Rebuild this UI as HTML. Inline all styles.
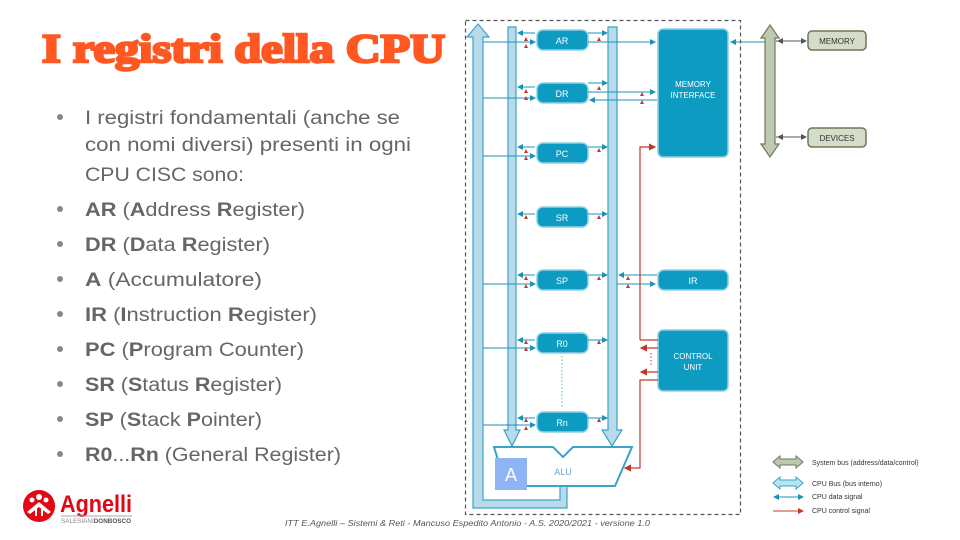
<!DOCTYPE html>
<html><head><meta charset="utf-8"><style>
html,body{margin:0;padding:0;background:#fff;width:960px;height:540px;overflow:hidden}
svg{display:block}
</style></head><body>
<svg width="960" height="540" viewBox="0 0 960 540" xmlns="http://www.w3.org/2000/svg" font-family="Liberation Sans, sans-serif">
<defs>
<marker id="ab" markerWidth="6" markerHeight="6" refX="5" refY="3" orient="auto"><path d="M0,0 L6,3 L0,6z" fill="#1e90b8"/></marker>
<marker id="ar" markerWidth="6" markerHeight="6" refX="5" refY="3" orient="auto"><path d="M0,0 L6,3 L0,6z" fill="#c0392b"/></marker>
<marker id="ag" markerWidth="6" markerHeight="6" refX="5" refY="3" orient="auto"><path d="M0,0 L6,3 L0,6z" fill="#555"/></marker>
</defs>
<!-- title -->
<text x="42" y="62" font-family="Liberation Serif, serif" font-weight="bold" font-size="40" fill="#ff5722" textLength="403" lengthAdjust="spacingAndGlyphs" stroke="#ff5722" stroke-width="2.5">I registri della CPU</text>
<!-- bullets -->
<g font-size="19" fill="#666">
<g fill="#888"><circle cx="60" cy="117" r="3"/><circle cx="60" cy="209" r="3"/><circle cx="60" cy="244" r="3"/><circle cx="60" cy="279" r="3"/><circle cx="60" cy="314" r="3"/><circle cx="60" cy="349" r="3"/><circle cx="60" cy="384" r="3"/><circle cx="60" cy="419" r="3"/><circle cx="60" cy="454" r="3"/></g>
<text x="85" y="124" textLength="315" lengthAdjust="spacingAndGlyphs">I registri fondamentali (anche se</text>
<text x="85" y="151" textLength="326" lengthAdjust="spacingAndGlyphs">con nomi diversi) presenti in ogni</text>
<text x="85" y="181" textLength="159" lengthAdjust="spacingAndGlyphs">CPU CISC sono:</text>
<text x="85" y="216" textLength="220" lengthAdjust="spacingAndGlyphs"><tspan font-weight="bold">AR</tspan> (<tspan font-weight="bold">A</tspan>ddress <tspan font-weight="bold">R</tspan>egister)</text>
<text x="85" y="251" textLength="185" lengthAdjust="spacingAndGlyphs"><tspan font-weight="bold">DR</tspan> (<tspan font-weight="bold">D</tspan>ata <tspan font-weight="bold">R</tspan>egister)</text>
<text x="85" y="286" textLength="177" lengthAdjust="spacingAndGlyphs"><tspan font-weight="bold">A</tspan>  (Accumulatore)</text>
<text x="85" y="321" textLength="232" lengthAdjust="spacingAndGlyphs"><tspan font-weight="bold">IR</tspan> (<tspan font-weight="bold">I</tspan>nstruction <tspan font-weight="bold">R</tspan>egister)</text>
<text x="85" y="356" textLength="219" lengthAdjust="spacingAndGlyphs"><tspan font-weight="bold">PC</tspan> (<tspan font-weight="bold">P</tspan>rogram Counter)</text>
<text x="85" y="391" textLength="197" lengthAdjust="spacingAndGlyphs"><tspan font-weight="bold">SR</tspan> (<tspan font-weight="bold">S</tspan>tatus <tspan font-weight="bold">R</tspan>egister)</text>
<text x="85" y="426" textLength="177" lengthAdjust="spacingAndGlyphs"><tspan font-weight="bold">SP</tspan> (<tspan font-weight="bold">S</tspan>tack <tspan font-weight="bold">P</tspan>ointer)</text>
<text x="85" y="461" textLength="256" lengthAdjust="spacingAndGlyphs"><tspan font-weight="bold">R0</tspan>...<tspan font-weight="bold">Rn</tspan> (General Register)</text>
</g>
<!-- logo -->
<circle cx="39" cy="506" r="16" fill="#e30613"/>
<g fill="#fff"><circle cx="39" cy="497" r="3"/><circle cx="32" cy="500" r="2.5"/><circle cx="46" cy="500" r="2.5"/><path d="M27,512 L39,502 L51,512 L48,514 L39,507 L30,514z"/><rect x="35" y="508" width="2" height="8"/><rect x="41" y="508" width="2" height="8"/></g>
<text x="60" y="512" font-size="24" font-weight="bold" fill="#e30613" textLength="72" lengthAdjust="spacingAndGlyphs">Agnelli</text>
<line x1="61" y1="516" x2="132" y2="516" stroke="#aaa" stroke-width="1"/>
<text x="61" y="523" font-size="6.5" fill="#888" textLength="70" lengthAdjust="spacingAndGlyphs">SALESIANI<tspan font-weight="bold" fill="#555">DONBOSCO</tspan></text>
<text x="285" y="526" font-size="8" font-style="italic" fill="#555" textLength="365" lengthAdjust="spacingAndGlyphs">ITT E.Agnelli – Sistemi &amp; Reti - Mancuso Espedito Antonio - A.S. 2020/2021 - versione 1.0</text>

<!-- diagram box -->
<rect x="465.5" y="20.5" width="275" height="494" fill="none" stroke="#555" stroke-dasharray="4,3" stroke-width="1.2"/>
<path d="M473,505 L473,37 L467,37 L478,24 L489,37 L483,37 L483,500 L560,500 L560,485 L567,485 L567,508 L473,508z" fill="#b8dbe9" stroke="#3aa3c9" stroke-width="1.2"/>
<path d="M508,27 L516,27 L516,430 L520,430 L512,446 L504,430 L508,430z" fill="#b8dbe9" stroke="#3aa3c9" stroke-width="1.2"/>
<path d="M608,27 L617,27 L617,430 L622,430 L612,446 L602,430 L608,430z" fill="#b8dbe9" stroke="#3aa3c9" stroke-width="1.2"/>
<path d="M494,447 L553,447 L563,457 L573,447 L632,447 L615,486 L506,486z" fill="#fff" stroke="#3aa3c9" stroke-width="2"/>
<text x="563" y="475" font-size="9" fill="#5aa8c8" text-anchor="middle">ALU</text>
<rect x="495" y="458" width="32" height="32" fill="#8fb4f5"/>
<text x="511" y="481" font-size="18" fill="#fff" text-anchor="middle">A</text>

<g font-size="9" fill="#fff" text-anchor="middle">
<rect x="537" y="30" width="51" height="20" rx="6" fill="#0e9bc2" stroke="#8fd0e6" stroke-width="1.5"/><text x="562" y="44">AR</text>
<rect x="537" y="83" width="51" height="20" rx="6" fill="#0e9bc2" stroke="#8fd0e6" stroke-width="1.5"/><text x="562" y="97">DR</text>
<rect x="537" y="143" width="51" height="20" rx="6" fill="#0e9bc2" stroke="#8fd0e6" stroke-width="1.5"/><text x="562" y="157">PC</text>
<rect x="537" y="207" width="51" height="20" rx="6" fill="#0e9bc2" stroke="#8fd0e6" stroke-width="1.5"/><text x="562" y="221">SR</text>
<rect x="537" y="270" width="51" height="20" rx="6" fill="#0e9bc2" stroke="#8fd0e6" stroke-width="1.5"/><text x="562" y="284">SP</text>
<rect x="537" y="333" width="51" height="20" rx="6" fill="#0e9bc2" stroke="#8fd0e6" stroke-width="1.5"/><text x="562" y="347">R0</text>
<rect x="537" y="412" width="51" height="20" rx="6" fill="#0e9bc2" stroke="#8fd0e6" stroke-width="1.5"/><text x="562" y="426">Rn</text>
<rect x="658" y="29" width="70" height="128" rx="5" fill="#0e9bc2" stroke="#8fd0e6" stroke-width="1.5"/>
<text x="693" y="87" font-size="8">MEMORY</text><text x="693" y="98" font-size="8">INTERFACE</text>
<rect x="658" y="270" width="70" height="20" rx="6" fill="#0e9bc2" stroke="#8fd0e6" stroke-width="1.5"/><text x="693" y="284">IR</text>
<rect x="658" y="330" width="70" height="61" rx="5" fill="#0e9bc2" stroke="#8fd0e6" stroke-width="1.5"/>
<text x="693" y="359" font-size="8">CONTROL</text><text x="693" y="370" font-size="8">UNIT</text>
</g>
<line x1="562" y1="356" x2="562" y2="408" stroke="#6ab4d0" stroke-dasharray="1.5,2"/>

<g stroke="#1e90b8" stroke-width="1" fill="none">
<path d="M535,33 L518,33" marker-end="url(#ab)"/><path d="M588,33 L607,33" marker-end="url(#ab)"/><path d="M483,42 L535,42" marker-end="url(#ab)"/><path d="M588,42 L655,42" marker-end="url(#ab)"/>
<path d="M535,87 L518,87" marker-end="url(#ab)"/><path d="M588,83 L607,83" marker-end="url(#ab)"/><path d="M483,98 L535,98" marker-end="url(#ab)"/><path d="M588,92 L655,92" marker-end="url(#ab)"/><path d="M657,100 L590,100" marker-end="url(#ab)"/>
<path d="M535,147 L518,147" marker-end="url(#ab)"/><path d="M588,147 L607,147" marker-end="url(#ab)"/><path d="M483,156 L535,156" marker-end="url(#ab)"/>
<path d="M535,214 L518,214" marker-end="url(#ab)"/><path d="M588,214 L607,214" marker-end="url(#ab)"/>
<path d="M535,275 L518,275" marker-end="url(#ab)"/><path d="M588,275 L607,275" marker-end="url(#ab)"/><path d="M483,284 L535,284" marker-end="url(#ab)"/>
<path d="M657,275 L619,275" marker-end="url(#ab)"/><path d="M617,284 L655,284" marker-end="url(#ab)"/>
<path d="M535,340 L518,340" marker-end="url(#ab)"/><path d="M588,340 L607,340" marker-end="url(#ab)"/><path d="M483,348 L535,348" marker-end="url(#ab)"/>
<path d="M535,418 L518,418" marker-end="url(#ab)"/><path d="M588,418 L607,418" marker-end="url(#ab)"/><path d="M483,425 L535,425" marker-end="url(#ab)"/>
<path d="M765,42 L731,42" marker-end="url(#ab)"/>
</g>
<g stroke="#c0392b" stroke-width="1.2" fill="none">
<path d="M640,340 L640,147 L655,147" marker-end="url(#ar)"/>
<path d="M658,340 L640,340"/>
<path d="M658,348 L641,348" marker-end="url(#ar)"/>
<path d="M658,372 L641,372" marker-end="url(#ar)"/>
<path d="M658,380 L640,380 L640,468 L625,468" marker-end="url(#ar)"/>
</g>
<line x1="651" y1="353" x2="651" y2="367" stroke="#c0392b" stroke-dasharray="1.5,2"/>
<g fill="#c0392b">
<path d="M526,37 l-2,4 h4z"/><path d="M526,44 l-2,4 h4z"/><path d="M599,37 l-2,4 h4z"/>
<path d="M526,89 l-2,4 h4z"/><path d="M526,96 l-2,4 h4z"/><path d="M599,86 l-2,4 h4z"/><path d="M642,92 l-2,4 h4z"/><path d="M642,100 l-2,4 h4z"/>
<path d="M526,149 l-2,4 h4z"/><path d="M526,156 l-2,4 h4z"/><path d="M599,148 l-2,4 h4z"/>
<path d="M526,215 l-2,4 h4z"/><path d="M599,215 l-2,4 h4z"/>
<path d="M526,276 l-2,4 h4z"/><path d="M526,284 l-2,4 h4z"/><path d="M599,276 l-2,4 h4z"/><path d="M628,276 l-2,4 h4z"/><path d="M628,284 l-2,4 h4z"/>
<path d="M526,340 l-2,4 h4z"/><path d="M526,347 l-2,4 h4z"/><path d="M599,340 l-2,4 h4z"/>
<path d="M526,418 l-2,4 h4z"/><path d="M526,426 l-2,4 h4z"/><path d="M599,418 l-2,4 h4z"/>
</g>
<path d="M770,25 L779,38 L775,38 L775,144 L779,144 L770,157 L761,144 L765,144 L765,38 L761,38z" fill="#bfc9b0" stroke="#6b7a5a" stroke-width="1.2"/>
<g stroke="#555" stroke-width="1" fill="none">
<path d="M776,41 L806,41" marker-end="url(#ag)"/><path d="M806,41 L778,41" marker-end="url(#ag)"/>
<path d="M776,137 L806,137" marker-end="url(#ag)"/><path d="M806,137 L778,137" marker-end="url(#ag)"/>
</g>
<rect x="808" y="31" width="58" height="19" rx="4" fill="#d5dcc8" stroke="#6b7a5a" stroke-width="1.5"/>
<text x="837" y="44" font-size="8" fill="#333" text-anchor="middle">MEMORY</text>
<rect x="808" y="128" width="58" height="19" rx="4" fill="#d5dcc8" stroke="#6b7a5a" stroke-width="1.5"/>
<text x="837" y="141" font-size="8" fill="#333" text-anchor="middle">DEVICES</text>
<path d="M773,462 L780,456 L780,459 L796,459 L796,456 L803,462 L796,468 L796,465 L780,465 L780,468z" fill="#bfc9b0" stroke="#6b7a5a"/>
<text x="812" y="465" font-size="7" fill="#333">System bus (address/data/control)</text>
<path d="M773,483 L780,477 L780,480 L796,480 L796,477 L803,483 L796,489 L796,486 L780,486 L780,489z" fill="#b8e4f0" stroke="#3aa3c9"/>
<text x="812" y="486" font-size="7" fill="#333">CPU Bus (bus interno)</text>
<path d="M775,497 L803,497" stroke="#1e90b8" marker-end="url(#ab)"/><path d="M803,497 L774,497" stroke="#1e90b8" marker-end="url(#ab)"/>
<text x="812" y="499" font-size="7" fill="#333">CPU data signal</text>
<path d="M773,511 L803,511" stroke="#c0392b" marker-end="url(#ar)"/>
<text x="812" y="513" font-size="7" fill="#333">CPU control signal</text>
</svg>
</body></html>
